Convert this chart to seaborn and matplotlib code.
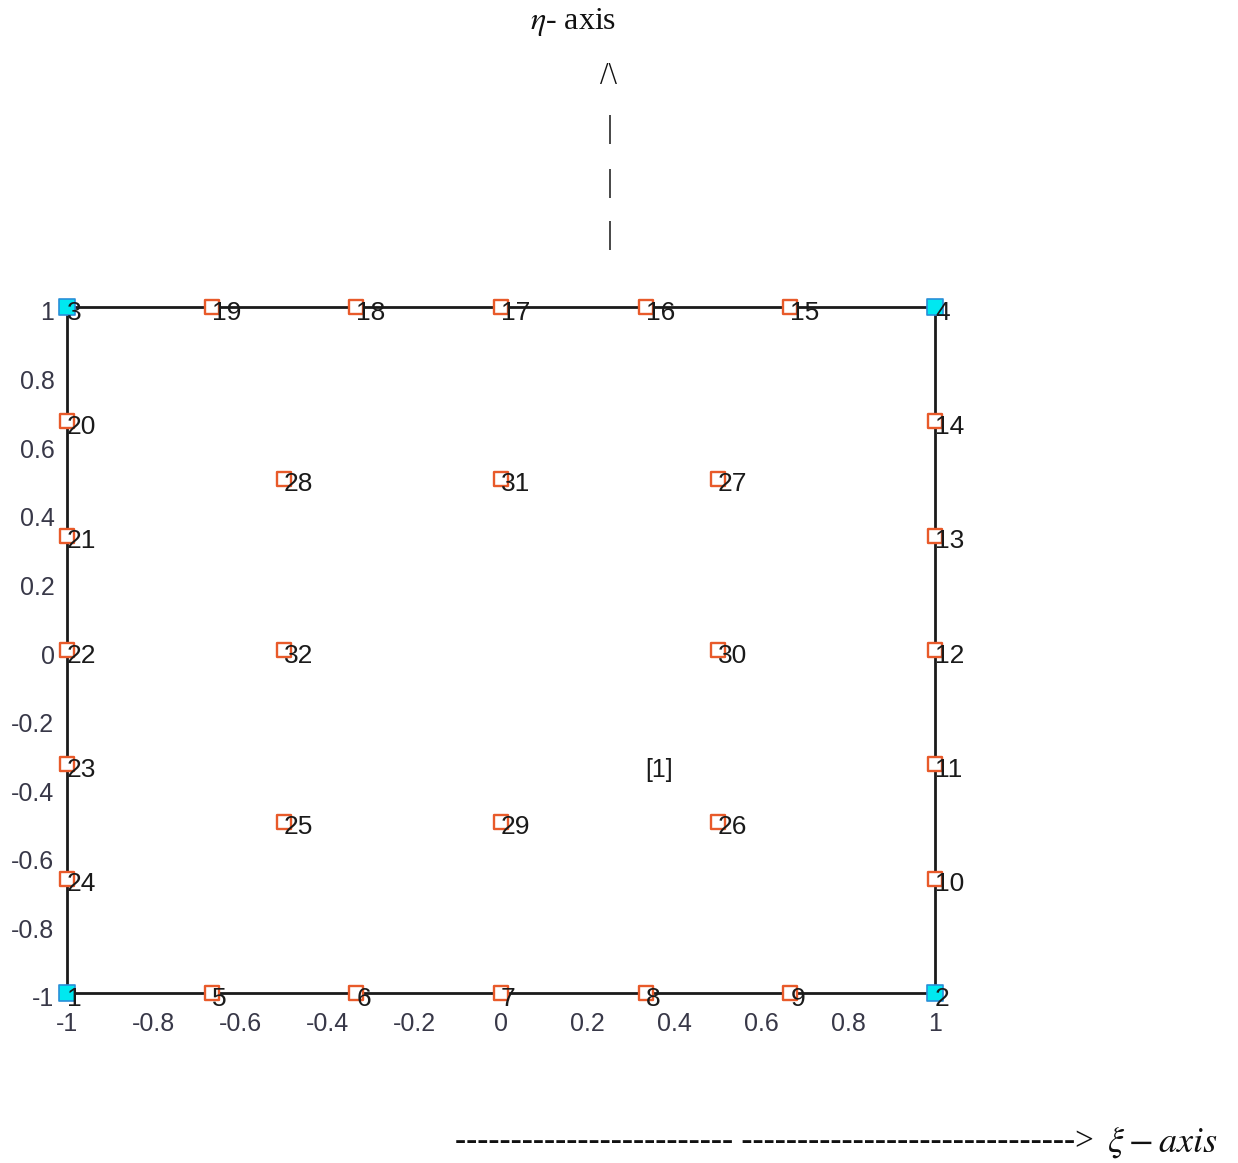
import numpy as np
import pandas as pd
import matplotlib
matplotlib.use("Agg")
import matplotlib.pyplot as plt
import matplotlib.transforms as mtransforms
import seaborn as sns

# ---- data ----
node_ids = list(range(1, 33))
node_xi = [-1, 1, -1, 1,
           -2/3, -1/3, 0, 1/3, 2/3,
           1, 1, 1, 1, 1,
           2/3, 1/3, 0, -1/3, -2/3,
           -1, -1, -1, -1, -1,
           -0.5, 0.5, 0.5, -0.5,
           0, 0.5, 0, -0.5]
node_eta = [-1, -1, 1, 1,
            -1, -1, -1, -1, -1,
            -2/3, -1/3, 0, 1/3, 2/3,
            1, 1, 1, 1, 1,
            2/3, 1/3, 0, -1/3, -2/3,
            -0.5, -0.5, 0.5, 0.5,
            -0.5, 0, 0.5, 0]
corner_ids = [1, 2, 3, 4]
boundary_xi = [-1, 1, 1, -1, -1]
boundary_eta = [-1, -1, 1, 1, -1]
element_label = "[1]"
element_pos = (0.365, -0.35)
tick_vals = [-1, -0.8, -0.6, -0.4, -0.2, 0, 0.2, 0.4, 0.6, 0.8, 1]
tick_labels = ["-1", "-0.8", "-0.6", "-0.4", "-0.2", "0", "0.2", "0.4", "0.6", "0.8", "1"]

df = pd.DataFrame({"id": node_ids, "xi": node_xi, "eta": node_eta})
df["kind"] = np.where(df["id"].isin(corner_ids), "corner", "mid")
bdf = pd.DataFrame({"xi": boundary_xi, "eta": boundary_eta, "o": range(len(boundary_xi))})

sns.set_style("white")
plt.rcParams["font.family"] = ["Liberation Sans", "DejaVu Sans"]

fig = plt.figure(figsize=(12.38, 11.63), dpi=100)
ax = fig.add_axes([67/1238, 1 - 993/1163, (935-67)/1238, (993-307)/1163])

sns.lineplot(data=bdf, x="xi", y="eta", sort=False, estimator=None, color="#1a1a1a",
             linewidth=2.0, ax=ax, zorder=2)
for ln in ax.get_lines():
    ln.set_clip_on(False)

mid = df[df.kind == "mid"]
cor = df[df.kind == "corner"]
sns.scatterplot(data=mid, x="xi", y="eta", marker="s", s=110, facecolor="white",
                edgecolor="#e85a2a", linewidth=1.7, ax=ax, zorder=3, clip_on=False)
sns.scatterplot(data=cor, x="xi", y="eta", marker="s", s=130, color="#00e8f0",
                edgecolor="#2a8fd8", linewidth=1.2, ax=ax, zorder=3, clip_on=False)

for _, r in df.iterrows():
    ax.annotate(str(r["id"]), (r["xi"], r["eta"]), xytext=(0, -4), textcoords="offset points",
                ha="left", va="center", fontsize=19, color="#1a1a1a", zorder=4,
                annotation_clip=False)

ax.text(element_pos[0], element_pos[1], element_label, ha="center", va="center",
        fontsize=18, color="#1a1a1a")

ax.set_xlim(-1, 1)
ax.set_ylim(-1, 1)
ax.set_xticks(tick_vals)
ax.set_xticklabels(tick_labels)
ax.set_yticks(tick_vals)
ax.set_yticklabels(tick_labels)
ax.tick_params(axis="x", length=0, labelsize=18, labelcolor="#383848", pad=14)
ax.tick_params(axis="y", length=0, labelsize=18, labelcolor="#383848", pad=9)
off = mtransforms.ScaledTranslation(0, -4/100, fig.dpi_scale_trans)
for lab in ax.get_yticklabels():
    lab.set_transform(lab.get_transform() + off)
ax.set_xlabel("")
ax.set_ylabel("")
for s in ax.spines.values():
    s.set_visible(False)

serif = ["Liberation Serif", "DejaVu Serif"]
fig.text(573/1238, 1 - 22/1163, r"$\eta$- axis", ha="center", va="center",
         fontsize=23, family=serif, math_fontfamily="stix", color="#111111")
fig.text(608/1238, 1 - 77/1163, "/\\", ha="center", va="center", fontsize=22,
         family=serif, color="#111111")
for yy in [130, 183, 236]:
    fig.text(610/1238, 1 - yy/1163, "|", ha="center", va="center", fontsize=22,
             family=serif, color="#111111")
fig.text(455/1238, 1 - 1142/1163,
         "------------------------- ------------------------------>",
         ha="left", va="center", fontsize=23.9, family=serif, color="#111111")
fig.text(1218/1238, 1 - 1142/1163, r"$\xi - axis$",
         ha="right", va="center", fontsize=26, family=serif, math_fontfamily="stix",
         color="#111111")

fig.savefig("out.png", dpi=100)
